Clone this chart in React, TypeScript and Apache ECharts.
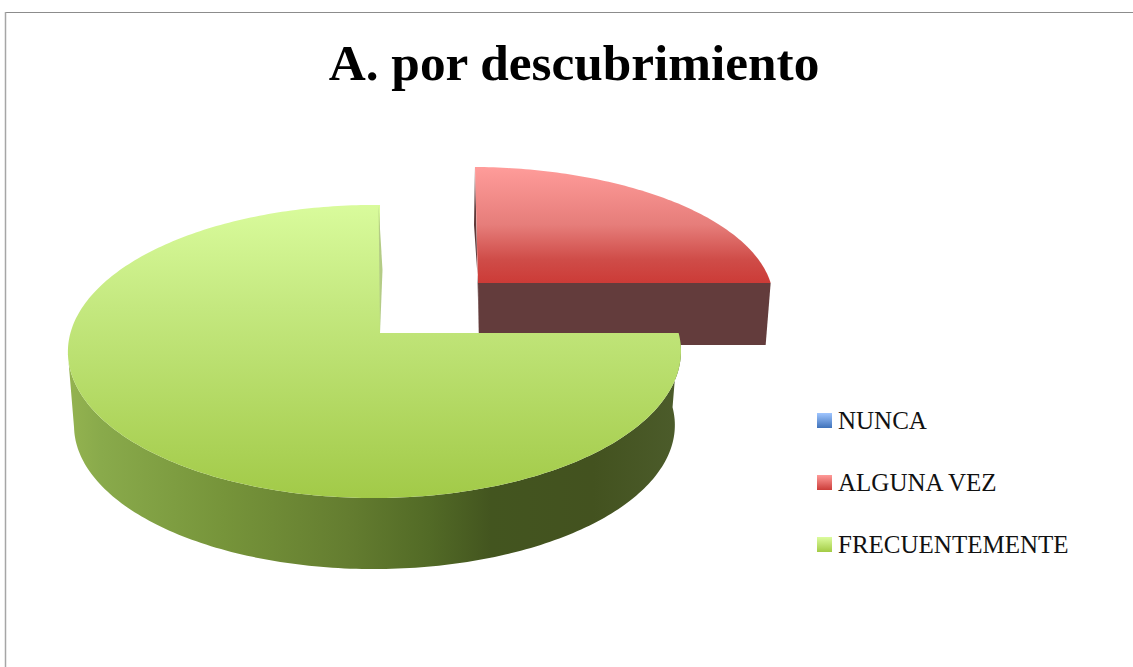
import React, { useEffect, useRef } from "react";
import * as echarts from "echarts";

const titleText = "A. por descubrimiento";
const categories = ["NUNCA", "ALGUNA VEZ", "FRECUENTEMENTE"];
const values = [0, 25, 75];

const FONT = "'Liberation Serif', serif";
const total = values.reduce((a, b) => a + b, 0);

// Perspective projection of the unit pie disc on to the page
const projection = { cx: 380, cy: 333, bx: 304, by: 144.2, kv: 0.126, ku: 0.018 };
type Pt = [number, number];
function project(deg: number): Pt {
  const t = (deg * Math.PI) / 180;
  const u = Math.sin(t);
  const v = Math.cos(t);
  const w = 1 + projection.kv * v + projection.ku * u;
  return [projection.cx + (projection.bx * u) / w, projection.cy - (projection.by * v) / w];
}
// The exploded slice sits further back, so it is shifted and slightly smaller
function explodedPoint(p: Pt): Pt {
  const v = (projection.cy - p[1]) / 128;
  return [478 + (p[0] - projection.cx) * 0.98 - 3 * v, 283 + (p[1] - projection.cy) * 0.906];
}
// The lower rim of the disc
function lowerRim(p: Pt): Pt {
  return [375 + (p[0] - 375) * 0.98, 351 + (p[1] - 351) * 0.98 + 74];
}
function arc(from: number, to: number): Pt[] {
  const n = Math.max(2, Math.ceil(Math.abs(to - from)));
  const out: Pt[] = [];
  for (let i = 0; i <= n; i++) out.push(project(from + ((to - from) * i) / n));
  return out;
}
const vertical = (stops: [number, string][]) =>
  new echarts.graphic.LinearGradient(0, 0, 0, 1, stops.map(([offset, color]) => ({ offset, color })));
const horizontal = (stops: [number, string][]) =>
  new echarts.graphic.LinearGradient(0, 0, 1, 0, stops.map(([offset, color]) => ({ offset, color })));

const legendFills = [
  [[0, "#a0c6ff"], [1, "#3f72ba"]],
  [[0, "#ff9b99"], [1, "#cb3d39"]],
  [[0, "#dcfc9e"], [1, "#a3cb45"]],
] as [number, string][][];

function poly(points: Pt[], fill: any, z2 = 0) {
  return { type: "polygon", silent: true, z2, shape: { points }, style: { fill, stroke: "none" } };
}

function startAngle(idx: number) {
  let s = 0;
  for (let i = 0; i < idx; i++) s += values[i];
  return (s / total) * 360;
}

function renderSlice(seriesIndex: number) {
  return (_params: any, api: any) => {
    const value = api.value(0);
    if (!value) return { type: "group", children: [] };
    const a0 = startAngle(seriesIndex);
    const a1 = a0 + (value / total) * 360;
    if (seriesIndex === 1) {
      const rim = arc(a0, a1).map(explodedPoint);
      const apex = explodedPoint([projection.cx, projection.cy]);
      const end = rim[rim.length - 1];
      return {
        type: "group",
        children: [
          poly([rim[0], [474, 225], apex, [apex[0] + 1, apex[1] + 62]], "#5d3a3a"),
          poly([apex, end, [end[0] - 5, end[1] + 62], [apex[0] + 1, apex[1] + 62]], "#633c3c"),
          poly([apex, ...rim], vertical([[0, "#ff9c9a"], [0.5, "#e67d7a"], [0.8, "#cf4c48"], [1, "#cc3b37"]]), 1),
        ],
      };
    }
    const rim = arc(a0, a1);
    const apex: Pt = [projection.cx, projection.cy];
    const sideTop = arc(a0, a1 - 98);
    const sideBottom = sideTop.map(lowerRim).reverse();
    return {
      type: "group",
      children: [
        poly(
          [...sideTop, ...sideBottom],
          horizontal([
            [0, "#94b350"],
            [0.054, "#89aa4b"],
            [0.255, "#76943a"],
            [0.456, "#647d30"],
            [0.59, "#526a26"],
            [0.69, "#43551f"],
            [0.856, "#43521f"],
            [1, "#4c5c2b"],
          ]),
        ),
        poly([apex, ...rim], vertical([[0, "#d9fb9c"], [0.35, "#c4e87f"], [1, "#a2ca48"]]), 1),
        poly([project(359.7), [382.5, 270], apex], "#b4cc86", 2),
      ],
    };
  };
}

export default function App() {
  const ref = useRef<HTMLDivElement>(null);
  useEffect(() => {
    const chart = echarts.init(ref.current!, undefined, { renderer: "svg" });
    chart.setOption({
      animation: false,
      backgroundColor: "#ffffff",
      title: {
        text: titleText,
        left: 569,
        top: 32,
        textAlign: "center",
        textStyle: { fontFamily: FONT, fontSize: 51.3, fontWeight: "bold", color: "#000000" },
      },
      legend: {
        orient: "vertical",
        left: 812,
        top: 403,
        itemWidth: 15,
        itemHeight: 15,
        itemGap: 37,
        selectedMode: false,
        textStyle: { fontFamily: FONT, fontSize: 25, color: "#111111", padding: [2, 0, 0, 1] },
        data: categories.map((name, i) => ({
          name,
          icon: "rect",
          itemStyle: { color: vertical(legendFills[i]), borderWidth: 0 },
        })),
      },
      graphic: [
        { type: "line", silent: true, shape: { x1: 5, y1: 12.5, x2: 1133, y2: 12.5 }, style: { stroke: "#8c8c8c", lineWidth: 1 } },
        { type: "line", silent: true, shape: { x1: 5.5, y1: 12, x2: 5.5, y2: 667 }, style: { stroke: "#a6a6a6", lineWidth: 1.5 } },
      ],
      series: categories.map((name, i) => ({
        type: "custom",
        name,
        coordinateSystem: "none",
        silent: true,
        itemStyle: { color: vertical(legendFills[i]) },
        data: [[values[i]]],
        renderItem: renderSlice(i),
      })),
    });
    return () => chart.dispose();
  }, []);
  return <div ref={ref} style={{ position: "fixed", left: 0, top: 0, width: 1133, height: 667 }} />;
}
